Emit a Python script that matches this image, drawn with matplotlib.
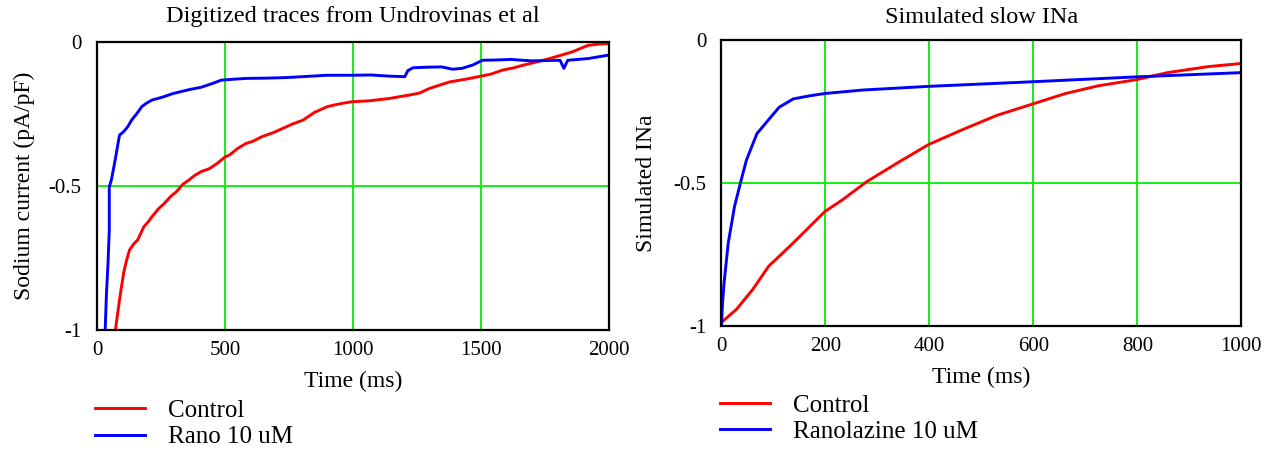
"""Digitized vs simulated slow sodium current traces."""

import matplotlib

matplotlib.use("Agg")

import matplotlib.pyplot as plt

digitized_control_t = [72, 88, 104, 115, 127, 145, 159, 183, 200, 215, 240, 263, 290, 311, 335,
                       359, 380, 406, 440, 470, 500, 518, 550, 582, 610, 645, 690, 725, 765, 805,
                       850, 900, 950, 996, 1060, 1140, 1219, 1260, 1299, 1340, 1379, 1440, 1490,
                       1540, 1586, 1630, 1666, 1745, 1800, 1857, 1920, 1960, 2000]
digitized_control_i = [-1.0, -0.896, -0.803, -0.76, -0.723, -0.70, -0.688, -0.642, -0.625,
                       -0.607, -0.58, -0.561, -0.535, -0.52, -0.495, -0.48, -0.465, -0.451,
                       -0.44, -0.422, -0.40, -0.393, -0.37, -0.353, -0.345, -0.329, -0.315,
                       -0.301, -0.285, -0.272, -0.245, -0.225, -0.215, -0.208, -0.205, -0.197,
                       -0.185, -0.178, -0.162, -0.15, -0.139, -0.13, -0.121, -0.112, -0.098,
                       -0.09, -0.081, -0.064, -0.05, -0.035, -0.012, -0.008, -0.006]
digitized_rano_t = [32, 37, 43, 48, 48, 56, 69, 80, 88, 104, 120, 135, 155, 175, 195, 215, 240,
                    263, 295, 327, 365, 406, 450, 486, 530, 582, 660, 741, 820, 900, 996, 1070,
                    1140, 1203, 1215, 1235, 1290, 1347, 1390, 1427, 1470, 1506, 1560, 1618,
                    1697, 1760, 1810, 1825, 1840, 1920, 2000]
digitized_rano_i = [-1.0, -0.873, -0.769, -0.653, -0.503, -0.48, -0.42, -0.364, -0.324, -0.312,
                    -0.295, -0.272, -0.25, -0.225, -0.212, -0.202, -0.196, -0.19, -0.18, -0.173,
                    -0.165, -0.158, -0.145, -0.133, -0.13, -0.127, -0.126, -0.124, -0.12,
                    -0.116, -0.116, -0.115, -0.119, -0.121, -0.10, -0.09, -0.088, -0.087,
                    -0.095, -0.092, -0.08, -0.064, -0.063, -0.061, -0.066, -0.065, -0.064,
                    -0.092, -0.064, -0.058, -0.046]

# Right panel: simulated slow INa (time in ms, normalised current)
sim_control_t = [0, 29, 60, 91, 138, 199, 232, 279, 342, 399, 467, 529, 598, 662, 725, 797, 858,
                 936, 1000]
sim_control_i = [-0.988, -0.942, -0.873, -0.791, -0.71, -0.6, -0.56, -0.496, -0.426, -0.365,
                 -0.311, -0.264, -0.224, -0.187, -0.16, -0.139, -0.114, -0.093, -0.082]
sim_rano_t = [0, 2, 5, 13, 25, 37, 48, 68, 84, 111, 138, 170, 199, 271, 399, 598, 797, 1000]
sim_rano_i = [-1.0, -0.919, -0.849, -0.71, -0.583, -0.496, -0.42, -0.328, -0.293, -0.235, -0.206,
              -0.195, -0.187, -0.175, -0.162, -0.146, -0.129, -0.114]

left_xticks = [0, 500, 1000, 1500, 2000]
right_xticks = [0, 200, 400, 600, 800, 1000]
yticks = [-1, -0.5, 0]
ytick_labels = ["-1", "-0.5", "0"]

plt.rcParams["font.family"] = ["Liberation Serif", "DejaVu Serif"]
plt.rcParams["axes.unicode_minus"] = False

RED = "#ff0000"
BLUE = "#0000ff"
GRID = "#00ee00"
LINE_WIDTH = 2.1


def style_axis(axis, xticks, xlim):
    axis.set_xlim(*xlim)
    axis.set_ylim(-1, 0)
    axis.set_xticks(xticks)
    axis.set_xticklabels([str(t) for t in xticks])
    axis.set_yticks(yticks)
    axis.set_yticklabels(ytick_labels)
    axis.tick_params(length=0, labelsize=15)
    axis.tick_params(axis="y", pad=11)
    axis.tick_params(axis="x", pad=8)
    for spine in axis.spines.values():
        spine.set_linewidth(1.6)
        spine.set_color("black")
    for t in xticks[1:-1]:
        axis.axvline(t, color=GRID, linewidth=1.3, zorder=0)
    axis.axhline(-0.5, color=GRID, linewidth=1.3, zorder=0)


def add_legend(axis, anchor):
    axis.legend(loc="upper left", bbox_to_anchor=anchor, bbox_transform=axis.figure.transFigure,
                frameon=False, fontsize=18, handlelength=2.0, handletextpad=0.9,
                borderaxespad=0, borderpad=0, labelspacing=0.15)


figure = plt.figure(figsize=(12.68, 4.5), dpi=100)
left = figure.add_axes([0.0765, 0.267, 0.4035, 0.64])
right = figure.add_axes([0.569, 0.276, 0.41, 0.635])

left.plot(digitized_control_t, digitized_control_i, color=RED, linewidth=LINE_WIDTH,
          label="Control")
left.plot(digitized_rano_t, digitized_rano_i, color=BLUE, linewidth=LINE_WIDTH,
          label="Rano 10 uM")
style_axis(left, left_xticks, (0, 2000))
left.set_title("Digitized traces from Undrovinas et al", fontsize=17.5, pad=14)
left.set_xlabel("Time (ms)", fontsize=17, labelpad=8)
left.set_ylabel("Sodium current (pA/pF)", fontsize=17, labelpad=10)
add_legend(left, (0.075, 0.112))

right.plot(sim_control_t, sim_control_i, color=RED, linewidth=LINE_WIDTH, label="Control")
right.plot(sim_rano_t, sim_rano_i, color=BLUE, linewidth=LINE_WIDTH, label="Ranolazine 10 uM")
style_axis(right, right_xticks, (0, 1000))
right.set_title("Simulated slow INa", fontsize=17.5, pad=12)
right.set_xlabel("Time (ms)", fontsize=17, labelpad=8)
right.set_ylabel("Simulated INa", fontsize=17, labelpad=12)
add_legend(right, (0.568, 0.124))

figure.savefig("out.png", dpi=100)
